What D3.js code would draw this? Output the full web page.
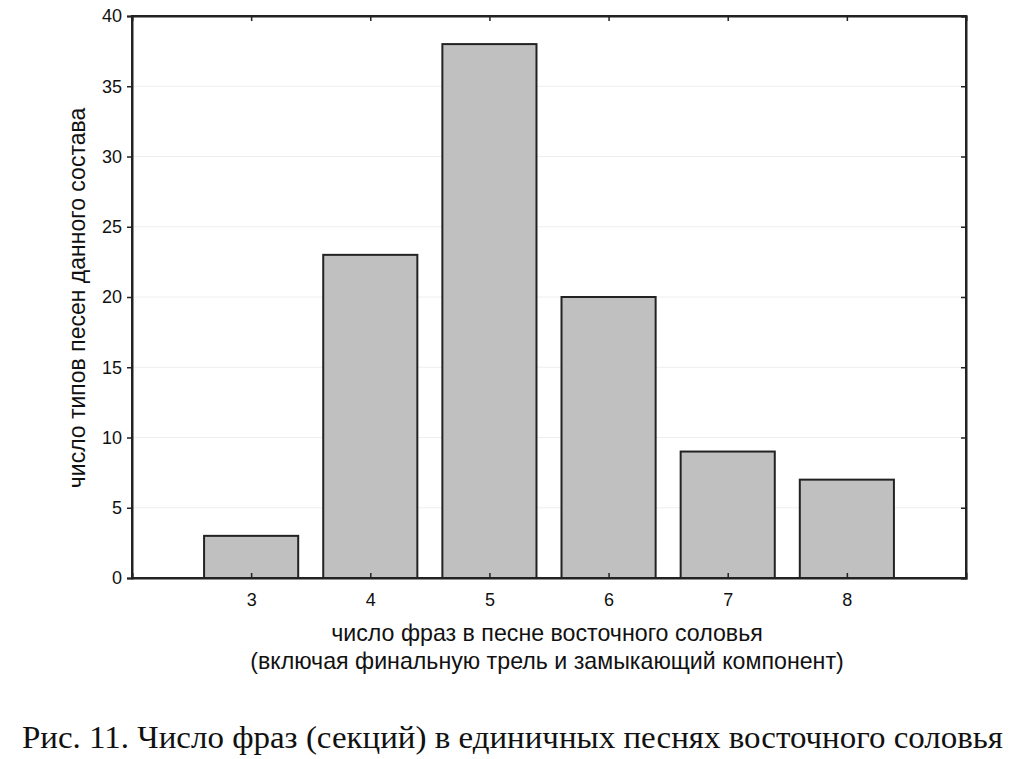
<!DOCTYPE html>
<html>
<head>
<meta charset="utf-8">
<script src="https://cdn.jsdelivr.net/npm/d3@7"></script>
<style>
  body { margin: 0; background: #fff; }
  svg text { font-family: "Liberation Sans", Arial, sans-serif; fill: #111; }
</style>
</head>
<body>
<div id="chart"></div>
<script>
// Data
const phraseCounts = [3, 4, 5, 6, 7, 8];
const songTypes = [3, 23, 38, 20, 9, 7];
const yTicks = [0, 5, 10, 15, 20, 25, 30, 35, 40];

const width = 1024, height = 759;
const margin = {top: 16, right: 58, bottom: 181, left: 132};
const plotW = width - margin.left - margin.right;
const plotH = height - margin.top - margin.bottom;

const svg = d3.select("#chart")
    .append("svg")
    .attr("width", width)
    .attr("height", height);

const g = svg.append("g")
    .attr("transform", `translate(${margin.left}, ${margin.top})`);

// Scales
const x = d3.scaleLinear().domain([2, 9]).range([0, plotW]);
const y = d3.scaleLinear().domain([0, 40]).range([plotH, 0]);
const barW = x(2.79) - x(2);

// Faint grid lines
g.append("g")
    .selectAll("line")
    .data(yTicks.slice(1, -1))
    .enter()
    .append("line")
    .attr("x1", 0)
    .attr("x2", plotW)
    .attr("y1", d => y(d))
    .attr("y2", d => y(d))
    .style("stroke", "#eee")
    .style("stroke-width", "1px");

// Bars
g.selectAll(".bar")
    .data(phraseCounts)
    .enter()
    .append("rect")
    .attr("class", "bar")
    .attr("x", d => x(d) - barW / 2)
    .attr("y", (d, i) => y(songTypes[i]))
    .attr("width", barW)
    .attr("height", (d, i) => plotH - y(songTypes[i]))
    .style("fill", "#c0c0c0")
    .style("stroke", "#222")
    .style("stroke-width", "2px");

// Left axis (outer ticks)
const yAxis = g.append("g")
    .call(d3.axisLeft(y).tickValues(yTicks).tickSize(5).tickPadding(5));
yAxis.selectAll("text").style("font-size", "18px");

// Right axis (inner ticks)
g.append("g")
    .attr("transform", `translate(${plotW}, 0)`)
    .call(d3.axisLeft(y).tickValues(yTicks).tickSize(5).tickFormat(""));

// Bottom axis (inner ticks)
g.append("g")
    .attr("transform", `translate(0, ${plotH})`)
    .call(d3.axisTop(x).tickValues(phraseCounts).tickSize(5).tickFormat(""));

g.append("g")
    .attr("transform", `translate(0, ${plotH})`)
    .call(d3.axisBottom(x).tickValues(phraseCounts).tickSize(0).tickPadding(15).tickFormat(d3.format("d")))
    .call(a => a.select(".domain").remove())
    .selectAll("text").style("font-size", "18px");

// Top axis (inner ticks)
g.append("g")
    .call(d3.axisBottom(x).tickValues(phraseCounts).tickSize(5).tickFormat(""));

g.selectAll(".domain").style("stroke", "#222").style("stroke-width", "2px");
g.selectAll(".tick line").style("stroke", "#222").style("stroke-width", "1.5px");

// Frame
g.append("rect")
    .attr("width", plotW)
    .attr("height", plotH)
    .style("fill", "none")
    .style("stroke", "#222")
    .style("stroke-width", "2px");

// Axis titles
svg.append("text")
    .attr("x", margin.left + plotW / 2 - 2)
    .attr("y", 641)
    .style("text-anchor", "middle")
    .style("font-size", "23.2px")
    .text("число фраз в песне восточного соловья");

svg.append("text")
    .attr("x", margin.left + plotW / 2 - 2)
    .attr("y", 669)
    .style("text-anchor", "middle")
    .style("font-size", "23.2px")
    .text("(включая финальную трель и замыкающий компонент)");

svg.append("text")
    .attr("transform", `translate(85, ${margin.top + plotH / 2 + 1}) rotate(-90)`)
    .style("text-anchor", "middle")
    .style("font-size", "23px")
    .text("число типов песен данного состава");

// Caption
svg.append("text")
    .attr("x", 22)
    .attr("y", 748)
    .attr("textLength", 981)
    .attr("lengthAdjust", "spacingAndGlyphs")
    .style("font-family", "'Liberation Serif', 'Times New Roman', serif")
    .style("font-size", "32px")
    .text("Рис. 11. Число фраз (секций) в единичных песнях восточного соловья");
</script>
</body>
</html>
